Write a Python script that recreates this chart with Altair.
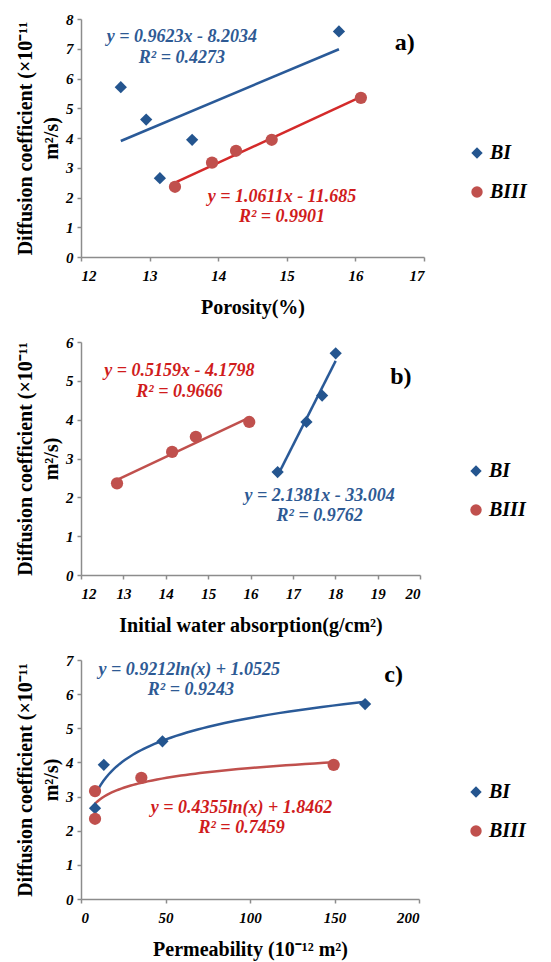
import altair as alt
import pandas as pd

SERIF = "Liberation Serif"
BLUE = "#24558F"
RED = "#C0504D"
BLUE_LINE = "#2A5A98"
RED_LINE_A = "#D42A2A"
BLUE_TXT = "#2E5A94"
RED_TXT = "#D01C1C"

series = ["BI", "BIII"]

# Panel a: porosity
a_bi_x = [12.58, 12.95, 13.15, 13.62, 15.76]
a_bi_y = [5.71, 4.62, 2.65, 3.94, 7.58]
a_biii_x = [13.37, 13.91, 14.26, 14.78, 16.08]
a_biii_y = [2.36, 3.17, 3.57, 3.94, 5.35]

# Panel b: initial water absorption
b_bi_x = [16.64, 17.32, 17.69, 18.01]
b_bi_y = [2.65, 3.94, 4.62, 5.71]
b_biii_x = [12.85, 14.15, 14.71, 15.97]
b_biii_y = [2.36, 3.17, 3.56, 3.94]

# Panel c: permeability
c_bi_x = [8.3, 13.5, 48.2, 168.1]
c_bi_y = [2.66, 3.93, 4.62, 5.71]
c_biii_x = [8.3, 8.3, 35.7, 149.5]
c_biii_y = [2.35, 3.16, 3.55, 3.93]

# Equation annotations (x, y in data units)
a_eq_text = ["y = 0.9623x - 8.2034", "R² = 0.4273", "y = 1.0611x - 11.685", "R² = 0.9901"]
a_eq_x = [13.47, 13.47, 14.93, 14.93]
a_eq_y = [7.4, 6.68, 2.03, 1.33]
b_eq_text = ["y = 0.5159x - 4.1798", "R² = 0.9666", "y = 2.1381x - 33.004", "R² = 0.9762"]
b_eq_x = [14.32, 14.32, 17.63, 17.63]
b_eq_y = [5.25, 4.70, 2.04, 1.52]
c_eq_text = ["y = 0.9212ln(x) + 1.0525", "R² = 0.9243", "y = 0.4355ln(x) + 1.8462", "R² = 0.7459"]
c_eq_x = [64, 65, 95, 95]
c_eq_y = [6.70, 6.11, 2.66, 2.07]
eq_series = ["BI", "BI", "BIII", "BIII"]
eq_series_b = ["BIII", "BIII", "BI", "BI"]

panel_labels = ["a)", "b)", "c)"]
label_pos = [(16.72, 7.21), (19.55, 5.09), (185, 6.56)]

Y_TITLE = ["Diffusion coefficient (×10⁻¹¹", "m²/s)"]


def make_df(bx, by, cx, cy):
    return pd.DataFrame({
        "x": bx + cx,
        "y": by + cy,
        "series": ["BI"] * len(bx) + ["BIII"] * len(cx),
    })


def panel(df, ann, label, lpos, xtitle, xdom, xvals, ydom, yvals, method,
          width, height, legxy, line_colors, ytitle=Y_TITLE):
    xs = alt.Scale(domain=xdom, nice=False, zero=False)
    ys = alt.Scale(domain=ydom, nice=False, zero=False)
    xax = alt.Axis(values=xvals, title=xtitle, format="d", labelOverlap=False)
    yax = alt.Axis(values=yvals, title=ytitle, format="d", labelOverlap=False)
    xenc = alt.X("x:Q", scale=xs, axis=xax)
    yenc = alt.Y("y:Q", scale=ys, axis=yax)
    leg = alt.Legend(orient="none", legendX=legxy[0], legendY=legxy[1], title=None,
                     labelFont=SERIF, labelFontSize=20, labelFontStyle="italic",
                     labelFontWeight="bold", labelColor="black", symbolSize=130,
                     symbolStrokeWidth=0, rowPadding=19, labelOffset=3, padding=0)
    points = alt.Chart(df).mark_point(filled=True, opacity=1, size=150).encode(
        x=xenc, y=yenc,
        color=alt.Color("series:N", scale=alt.Scale(domain=series, range=[BLUE, RED]), legend=leg),
        shape=alt.Shape("series:N", scale=alt.Scale(domain=series, range=["diamond", "circle"]), legend=leg),
    )
    layers = []
    for s, c in zip(series, line_colors):
        layers.append(
            alt.Chart(df).transform_filter(alt.datum.series == s)
            .transform_regression("x", "y", method=method)
            .mark_line(color=c, strokeWidth=2.5)
            .encode(x=xenc, y=yenc)
        )
    layers.append(points)
    for s, c in zip(series, [BLUE_TXT, RED_TXT]):
        layers.append(
            alt.Chart(ann).transform_filter(alt.datum.series == s)
            .mark_text(font=SERIF, fontSize=18, fontWeight="bold", fontStyle="italic", color=c)
            .encode(x=xenc, y=yenc, text="t:N")
        )
    lab = pd.DataFrame({"x": [lpos[0]], "y": [lpos[1]], "t": [label]})
    layers.append(
        alt.Chart(lab).mark_text(font=SERIF, fontSize=24, fontWeight="bold", color="black")
        .encode(x=xenc, y=yenc, text="t:N")
    )
    return alt.layer(*layers).properties(width=width, height=height)


dfa = make_df(a_bi_x, a_bi_y, a_biii_x, a_biii_y)
dfb = make_df(b_bi_x, b_bi_y, b_biii_x, b_biii_y)
dfc = make_df(c_bi_x, c_bi_y, c_biii_x, c_biii_y)
anna = pd.DataFrame({"x": a_eq_x, "y": a_eq_y, "t": a_eq_text, "series": eq_series})
annb = pd.DataFrame({"x": b_eq_x, "y": b_eq_y, "t": b_eq_text, "series": eq_series_b})
annc = pd.DataFrame({"x": c_eq_x, "y": c_eq_y, "t": c_eq_text, "series": eq_series})

pa = panel(dfa, anna, panel_labels[0], label_pos[0], "Porosity(%)", [12, 17], list(range(12, 18)),
           [0, 8], list(range(0, 9)), "linear", 343, 238, (386, 124), [BLUE_LINE, RED_LINE_A])
pb = panel(dfb, annb, panel_labels[1], label_pos[1], "Initial water absorption(g/cm²)", [12, 20],
           list(range(12, 21)), [0, 6], list(range(0, 7)), "linear", 339, 233, (385, 119),
           [BLUE_LINE, RED])
pc = panel(dfc, annc, panel_labels[2], label_pos[2], "Permeability (10⁻¹² m²)", [0, 200],
           [0, 50, 100, 150, 200], [0, 7], list(range(0, 8)), "log", 338, 239, (385, 122),
           [BLUE_LINE, RED])

chart = alt.vconcat(pa, pb, pc, spacing=85, bounds="flush").resolve_scale(
    x="independent", y="independent", color="independent", shape="independent"
).resolve_legend(color="independent", shape="independent").configure_view(
    stroke=None
).configure_axis(
    grid=False, domainColor="#8C8C8C", domainWidth=1.5, tickColor="#8C8C8C", tickSize=4,
    tickWidth=1.5, labelFont=SERIF, labelFontSize=15, labelFontStyle="italic",
    labelFontWeight="bold", labelColor="black", titleFont=SERIF,
    titleFontSize=20, titleFontWeight="bold", titleColor="black"
).configure_axisY(
    titlePadding=4, titleLineHeight=26, labelPadding=4
).configure_axisX(
    titlePadding=14, labelPadding=7
).properties(padding={"left": 7, "top": 4, "right": 2, "bottom": 5})

chart.save("out.html", embed_options={"renderer": "svg", "actions": False})
